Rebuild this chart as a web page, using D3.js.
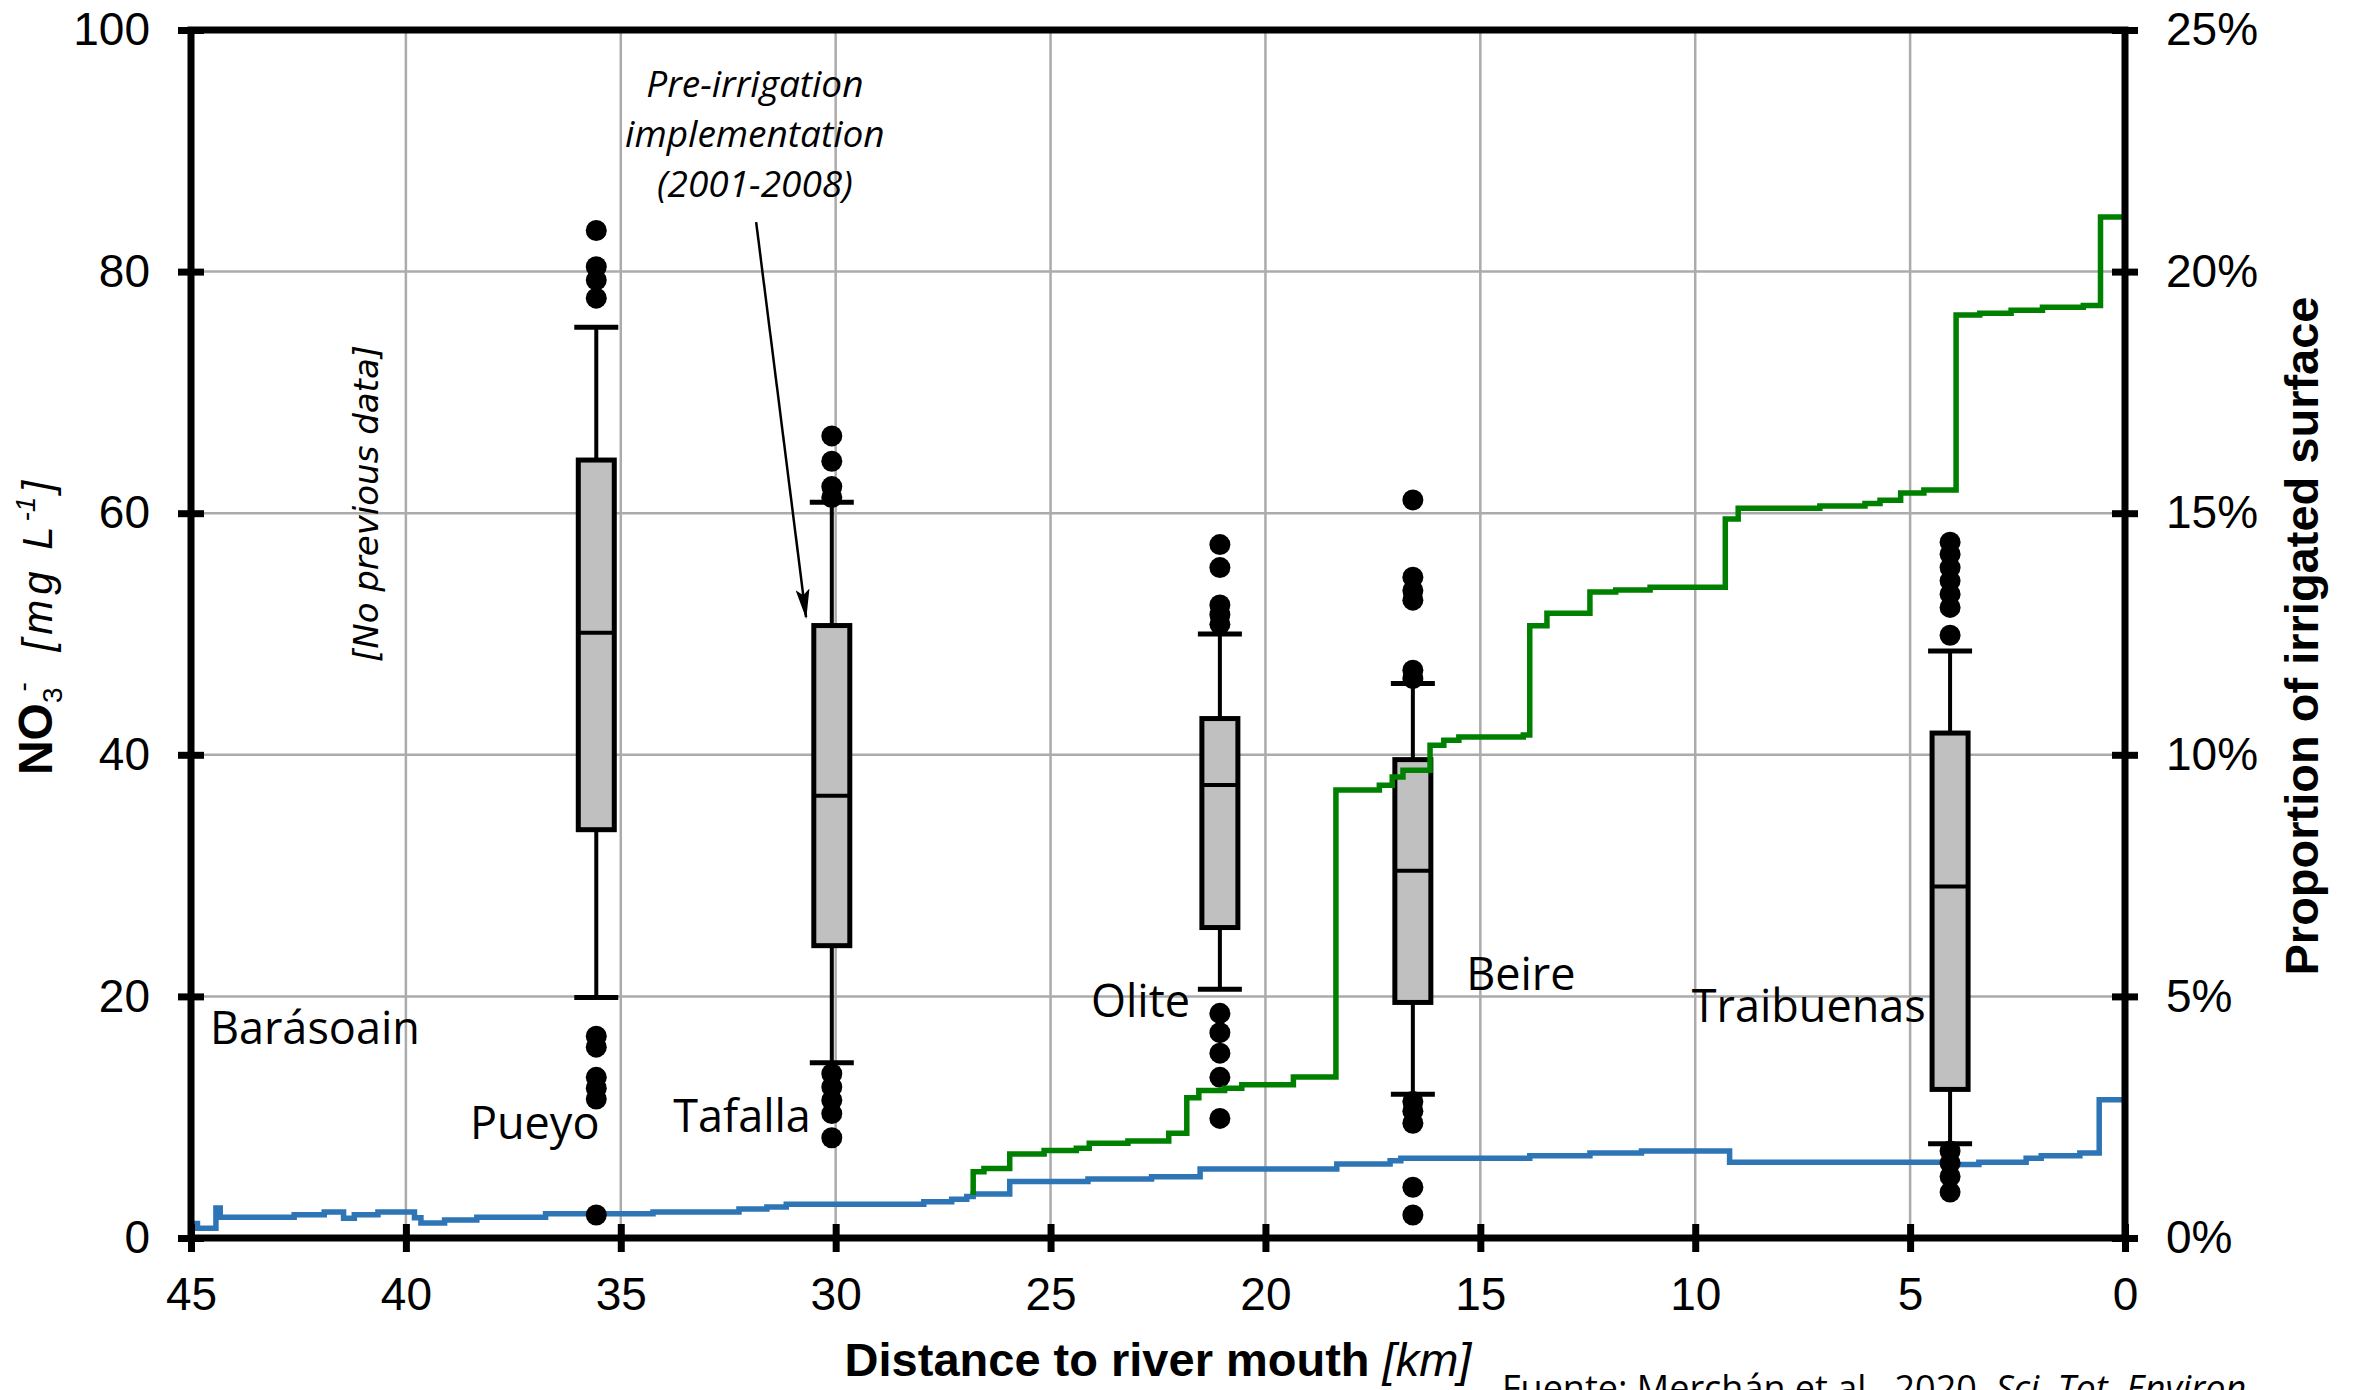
<!DOCTYPE html>
<html>
<head>
<meta charset="utf-8">
<script src="https://cdn.jsdelivr.net/npm/d3@7"></script>
<style>
  body { margin: 0; background: #fff; }
  svg { display: block; }
</style>
</head>
<body>
<div id="chart"></div>
<script>
// ===== box plots (NO3- mg/L) =====
var places = ["Pueyo", "Tafalla", "Olite", "Beire", "Traibuenas"]
var boxKm = [35.57, 30.09, 21.06, 16.57, 4.07]
var whiskerLow = [19.9, 14.5, 20.6, 11.9, 7.8]
var q1 = [33.8, 24.2, 25.7, 19.5, 12.3]
var median = [50.1, 36.6, 37.5, 30.4, 29.1]
var q3 = [64.4, 50.7, 43.0, 39.6, 41.8]
var whiskerHigh = [75.4, 60.9, 50.0, 45.9, 48.6]
var outliers = [
    [83.4, 80.4, 79.3, 77.8, 16.7, 15.8, 13.3, 12.4, 11.5, 1.9],
    [66.4, 64.3, 62.2, 61.3, 13.6, 12.5, 11.4, 10.3, 8.3],
    [57.4, 55.5, 52.4, 51.6, 50.8, 18.6, 17.0, 15.3, 13.3, 9.9],
    [61.1, 54.7, 53.6, 52.8, 47.0, 46.3, 11.3, 10.5, 9.5, 4.2, 1.9],
    [57.6, 56.6, 55.5, 54.4, 53.3, 52.2, 49.9, 7.2, 6.2, 5.1, 3.8]
]

// ===== step lines (right axis, %), [km where step starts, value] =====
var irrigated = [
    [26.8,0.89],[26.8,1.37],[26.55,1.44],[25.95,1.74],[25.15,1.81],[24.4,1.86],
    [24.1,1.96],[23.2,2.01],[22.25,2.17],[21.83,2.9],[21.55,3.05],[20.95,3.1],
    [20.55,3.17],[19.35,3.33],[18.36,9.27],[17.35,9.37],[17.05,9.54],[16.8,9.68],
    [16.17,10.2],[15.85,10.3],[15.5,10.37],[14.0,10.41],[13.85,12.67],[13.45,12.93],
    [12.45,13.37],[11.85,13.41],[11.05,13.47],[9.3,14.88],[9.0,15.1],[7.1,15.15],
    [6.05,15.2],[5.7,15.27],[5.22,15.42],[4.68,15.48],[3.93,19.1],[3.38,19.14],
    [2.65,19.2],[1.92,19.26],[0.97,19.3],[0.57,21.13],[0,21.13]
]
var blueSeries = [
    [45,0.3],[44.85,0.2],[44.42,0.62],[44.32,0.43],[42.6,0.48],[41.9,0.54],
    [41.45,0.41],[41.2,0.48],[40.65,0.54],[39.8,0.42],[39.65,0.31],[39.1,0.37],
    [38.35,0.43],[36.75,0.5],[34.25,0.54],[32.25,0.6],[31.6,0.64],[31.15,0.7],
    [27.95,0.75],[27.3,0.8],[26.95,0.86],[26.8,0.91],[25.95,1.17],[24.13,1.22],
    [22.65,1.27],[21.52,1.43],[18.34,1.53],[17.1,1.6],[16.85,1.65],[13.85,1.7],
    [12.45,1.76],[11.25,1.8],[9.2,1.57],[4.0,1.52],[3.4,1.57],[2.3,1.65],
    [1.95,1.7],[1.05,1.76],[0.6,2.86],[0,2.86]
]

// ===== ticks =====
var xTicks = [45, 40, 35, 30, 25, 20, 15, 10, 5, 0]
var yTicks = [0, 20, 40, 60, 80, 100]
var yRightTicks = [0, 5, 10, 15, 20, 25]

var W = 2356, H = 1390
var pLeft = 191, pRight = 2125, pTop = 30, pBottom = 1238
var arial = "'Liberation Sans', Arial, sans-serif"
var calibri = "'Open Sans', sans-serif"

var svg = d3.select("#chart")
    .append("svg")
    .attr("width", W)
    .attr("height", H)

var x = d3.scaleLinear().domain([45, 0]).range([pLeft, pRight])
var y = d3.scaleLinear().domain([0, 100]).range([pBottom, pTop])
var yR = d3.scaleLinear().domain([0, 25]).range([pBottom, pTop])

// grid
svg.append("g").selectAll("line")
    .data(xTicks.slice(1, -1))
    .enter().append("line")
    .attr("x1", d => x(d)).attr("x2", d => x(d))
    .attr("y1", pTop).attr("y2", pBottom)
    .attr("stroke", "#ababab").attr("stroke-width", 2.5)
svg.append("g").selectAll("line")
    .data(yTicks.slice(1, -1))
    .enter().append("line")
    .attr("x1", pLeft).attr("x2", pRight)
    .attr("y1", d => y(d)).attr("y2", d => y(d))
    .attr("stroke", "#ababab").attr("stroke-width", 2.5)

var stepLine = d3.line()
    .x(d => x(d[0]))
    .y(d => yR(d[1]))
    .curve(d3.curveStepAfter)

// blue line under the boxes
svg.append("path")
    .datum(blueSeries)
    .attr("d", stepLine)
    .attr("fill", "none")
    .attr("stroke", "#2e75b6")
    .attr("stroke-width", 5.5)

// boxes
var boxW = 36, capW = 44
places.forEach(function(p, i){
    var cx = x(boxKm[i])
    var g = svg.append("g")
    g.append("line")
        .attr("x1", cx).attr("x2", cx)
        .attr("y1", y(whiskerLow[i])).attr("y2", y(whiskerHigh[i]))
        .attr("stroke", "black").attr("stroke-width", 4)
    g.selectAll(".cap")
        .data([whiskerLow[i], whiskerHigh[i]])
        .enter().append("line")
        .attr("x1", cx - capW / 2).attr("x2", cx + capW / 2)
        .attr("y1", d => y(d)).attr("y2", d => y(d))
        .attr("stroke", "black").attr("stroke-width", 5)
    g.append("rect")
        .attr("x", cx - boxW / 2)
        .attr("y", y(q3[i]))
        .attr("width", boxW)
        .attr("height", y(q1[i]) - y(q3[i]))
        .attr("fill", "#c0c0c0")
        .attr("stroke", "black").attr("stroke-width", 5)
    g.append("line")
        .attr("x1", cx - boxW / 2).attr("x2", cx + boxW / 2)
        .attr("y1", y(median[i])).attr("y2", y(median[i]))
        .attr("stroke", "black").attr("stroke-width", 4)
    g.selectAll("circle")
        .data(outliers[i])
        .enter().append("circle")
        .attr("cx", cx)
        .attr("cy", d => y(d))
        .attr("r", 10.5)
        .attr("fill", "black")
})

// green line on top
svg.append("path")
    .datum(irrigated)
    .attr("d", stepLine)
    .attr("fill", "none")
    .attr("stroke", "#008000")
    .attr("stroke-width", 5.5)

// frame
svg.append("rect")
    .attr("x", pLeft).attr("y", pTop)
    .attr("width", pRight - pLeft).attr("height", pBottom - pTop)
    .attr("fill", "none").attr("stroke", "black").attr("stroke-width", 7)

// axes with crossing ticks
function styleAxis(g){
    g.select(".domain").remove()
    g.selectAll(".tick line").attr("stroke", "black").attr("stroke-width", 7)
    g.selectAll(".tick text")
        .attr("fill", "black")
        .style("font-family", arial)
        .style("font-size", "46px")
}

svg.append("g")
    .attr("transform", "translate(" + pLeft + ",0)")
    .call(d3.axisLeft(y).tickValues(yTicks).tickSize(13).tickPadding(28))
    .call(styleAxis)
    .selectAll(".tick line").attr("x1", 13)

svg.append("g")
    .attr("transform", "translate(" + pRight + ",0)")
    .call(d3.axisRight(yR).tickValues(yRightTicks).tickSize(13).tickPadding(28)
        .tickFormat(d => d + "%"))
    .call(styleAxis)
    .selectAll(".tick line").attr("x1", -13)

svg.append("g")
    .attr("transform", "translate(0," + pBottom + ")")
    .call(d3.axisBottom(x).tickValues(xTicks).tickSize(14).tickPadding(25))
    .call(styleAxis)
    .selectAll(".tick line").attr("y1", -14)

// axis titles
var yTitle = svg.append("text")
    .attr("transform", "translate(52,628) rotate(-90)")
    .attr("text-anchor", "middle")
    .style("font-family", arial)
    .style("font-size", "42px")
    .attr("fill", "black")
yTitle.append("tspan").text("NO").attr("font-weight", "bold").attr("font-size", "48px")
yTitle.append("tspan").text("3").attr("font-size", "28px").attr("dy", 10)
yTitle.append("tspan").text("-").attr("font-size", "28px").attr("dx", -4).attr("dy", -30)
yTitle.append("tspan").text(" [mg  L").attr("font-style", "italic").attr("dy", 20)
    .attr("dx", 14).style("letter-spacing", "5px")
yTitle.append("tspan").text("-1").attr("font-style", "italic").attr("font-size", "28px").attr("dy", -17)
yTitle.append("tspan").text("]").attr("font-style", "italic").attr("dy", 17).attr("dx", 4)

svg.append("text")
    .attr("transform", "translate(2318,636) rotate(-90)")
    .attr("text-anchor", "middle")
    .style("font-family", arial)
    .style("font-size", "47px")
    .attr("font-weight", "bold")
    .attr("fill", "black")
    .text("Proportion of irrigated surface")

var xTitle = svg.append("text")
    .attr("x", (pLeft + pRight) / 2)
    .attr("y", 1376)
    .attr("text-anchor", "middle")
    .style("font-family", arial)
    .style("font-size", "47px")
    .attr("fill", "black")
xTitle.append("tspan").text("Distance to river mouth ").attr("font-weight", "bold")
xTitle.append("tspan").text("[km]").attr("font-style", "italic")

// place labels
var placeLabels = [
    {t: "Barásoain", km: 44.56, v: 16.06},
    {t: "Pueyo", km: 38.51, v: 8.2},
    {t: "Tafalla", km: 33.78, v: 8.77},
    {t: "Olite", km: 24.06, v: 18.3},
    {t: "Beire", km: 15.33, v: 20.53},
    {t: "Traibuenas", km: 10.08, v: 17.88}
]
svg.append("g").selectAll("text")
    .data(placeLabels)
    .enter().append("text")
    .attr("x", d => x(d.km))
    .attr("y", d => y(d.v))
    .style("font-family", calibri)
    .style("font-size", "45px")
    .attr("fill", "black")
    .text(d => d.t)

// annotations
var note = svg.append("text")
    .attr("text-anchor", "middle")
    .style("font-family", calibri)
    .style("font-size", "37px")
    .style("font-style", "italic")
    .attr("fill", "black")
var noteLines = ["Pre-irrigation", "implementation", "(2001-2008)"]
noteLines.forEach(function(s, i){
    note.append("tspan")
        .attr("x", x(31.88))
        .attr("y", y(94.45) + i * 50)
        .text(s)
})

svg.append("defs").append("marker")
    .attr("id", "arrow")
    .attr("markerUnits", "userSpaceOnUse")
    .attr("markerWidth", 30).attr("markerHeight", 14)
    .attr("refX", 28).attr("refY", 7)
    .attr("orient", "auto")
    .append("path")
    .attr("d", "M0,0 L30,7 L0,14 L6,7 z")
    .attr("fill", "black")

svg.append("line")
    .attr("x1", x(31.85)).attr("y1", y(84.1))
    .attr("x2", x(30.69)).attr("y2", y(51.4))
    .attr("stroke", "black").attr("stroke-width", 2.5)
    .attr("marker-end", "url(#arrow)")

svg.append("text")
    .attr("transform", "translate(" + x(40.65) + "," + y(60.8) + ") rotate(-90)")
    .attr("text-anchor", "middle")
    .style("font-family", "'DejaVu Sans', sans-serif")
    .style("font-size", "34px")
    .style("font-style", "italic")
    .attr("fill", "black")
    .text("[No previous data]")

// source line, cut by the bottom edge
var src = svg.append("text")
    .attr("x", 1502)
    .attr("y", 1401)
    .style("font-family", calibri)
    .style("font-size", "36px")
    .attr("fill", "black")
src.append("tspan").text("Fuente: Merchán et al., 2020. ")
src.append("tspan").text("Sci. Tot. Environ.").style("font-style", "italic")
</script>
</body>
</html>
